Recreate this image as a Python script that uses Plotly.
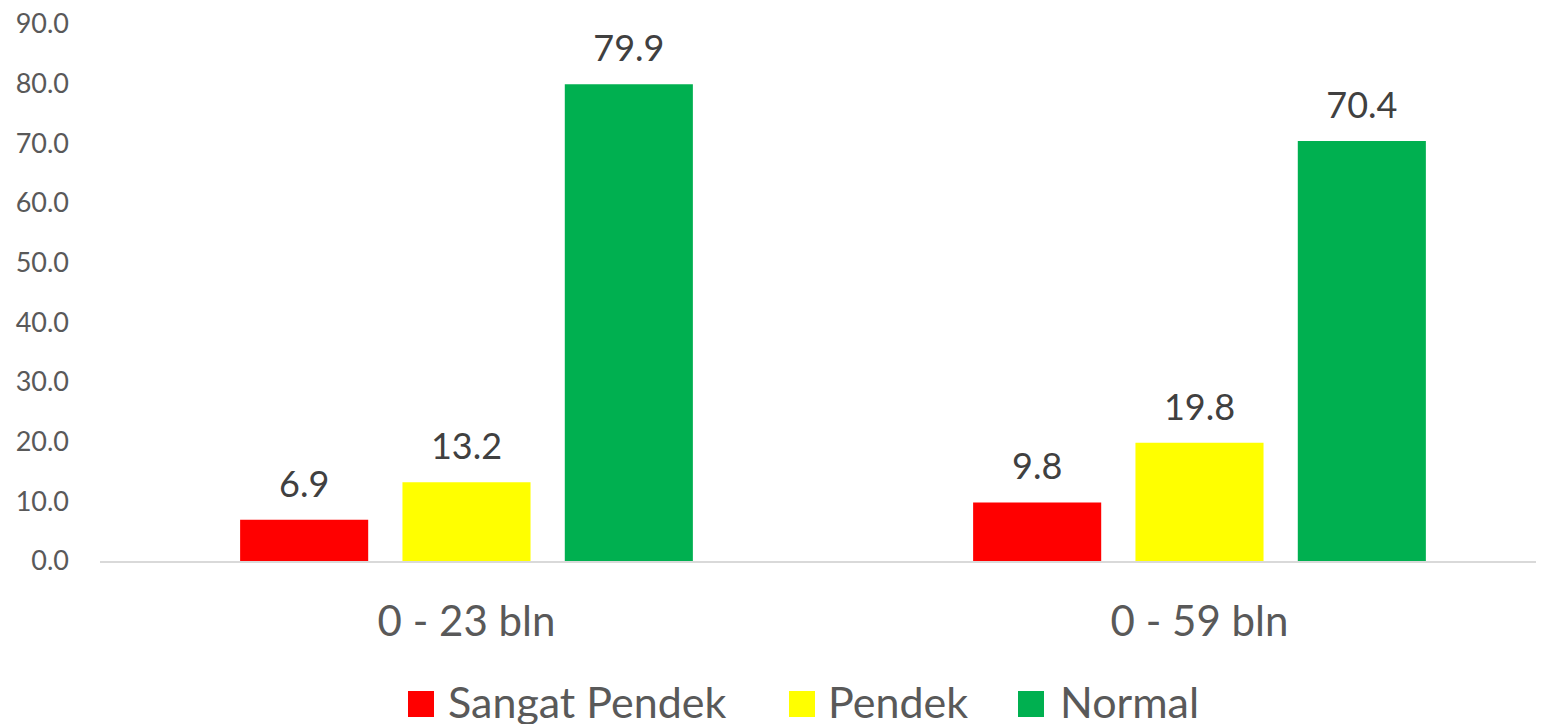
import plotly.graph_objects as go

categories = ["0 - 23 bln", "0 - 59 bln"]
sangat_pendek = [6.9, 9.8]
pendek = [13.2, 19.8]
normal = [79.9, 70.4]
series_names = ["Sangat Pendek", "Pendek", "Normal"]
series_colors = ["#FF0000", "#FFFF00", "#00B050"]
y_ticks = [0, 10, 20, 30, 40, 50, 60, 70, 80, 90]

FONT = "Lato"
PAGE_OFFSET = 8  # default body margin of the html page
W, H = 1544 - PAGE_OFFSET, 724 - PAGE_OFFSET
ML, MR, MT, MB = 100 - PAGE_OFFSET, 0, 24 - PAGE_OFFSET, 163
PW, PH = W - ML - MR, H - MT - MB


def px_x(px):
    return (px - PAGE_OFFSET - ML) / PW


def px_y(py):
    return (H - MB - (py - PAGE_OFFSET)) / PH


fig = go.Figure()
series_values = [sangat_pendek, pendek, normal]
for name, vals, col in zip(series_names, series_values, series_colors):
    fig.add_trace(go.Bar(
        x=categories, y=vals, name=name,
        marker=dict(color=col, line=dict(width=0)),
        showlegend=False, hoverinfo="skip",
    ))
# data labels, grouped like the bars
for name, vals in zip(series_names, series_values):
    fig.add_trace(go.Scatter(
        x=categories, y=vals, mode="markers+text",
        text=[f"{v:.1f}" for v in vals], textposition="top center",
        textfont=dict(family=FONT, size=36, color="#404040"),
        marker=dict(size=21, color="rgba(0,0,0,0)"),
        showlegend=False, hoverinfo="skip", cliponaxis=False,
    ))

# legend (drawn as squares + text to match the large symbols)
legend_square_px = [408, 789, 1018]
legend_text_px = [446, 826, 1058]
sq_top, sq_bot, text_mid = 691, 717, 701
for name, col, sx, tx in zip(series_names, series_colors, legend_square_px, legend_text_px):
    fig.add_shape(type="rect", xref="paper", yref="paper",
                  x0=px_x(sx), x1=px_x(sx + 26), y0=px_y(sq_bot), y1=px_y(sq_top),
                  fillcolor=col, line=dict(width=0))
    fig.add_annotation(xref="paper", yref="paper", x=px_x(tx), y=px_y(text_mid),
                       text=name, showarrow=False, xanchor="left", yanchor="middle",
                       font=dict(family=FONT, size=43, color="#595959"))

fig.update_layout(
    width=W, height=H,
    margin=dict(l=ML, r=MR, t=MT, b=MB, autoexpand=False),
    paper_bgcolor="white", plot_bgcolor="white",
    barmode="group", bargap=0.3356, bargroupgap=0.211,
    scattermode="group", scattergap=0.3356,
    showlegend=False,
    font=dict(family=FONT, color="#595959"),
)
fig.update_xaxes(
    type="category", range=[-0.5, 1.47], automargin=False,
    showline=True, linecolor="#D9D9D9", linewidth=2,
    showgrid=False, ticks="", ticklabelstandoff=23,
    tickfont=dict(family=FONT, size=42, color="#595959"),
)
fig.update_yaxes(
    range=[0, 90], tickvals=y_ticks, tickformat=".1f", automargin=False,
    showgrid=False, showline=False, zeroline=False, ticks="",
    ticklabelstandoff=30, ticklabeloverflow="allow",
    tickfont=dict(family=FONT, size=27, color="#595959"),
)
fig.write_html("out.html")
